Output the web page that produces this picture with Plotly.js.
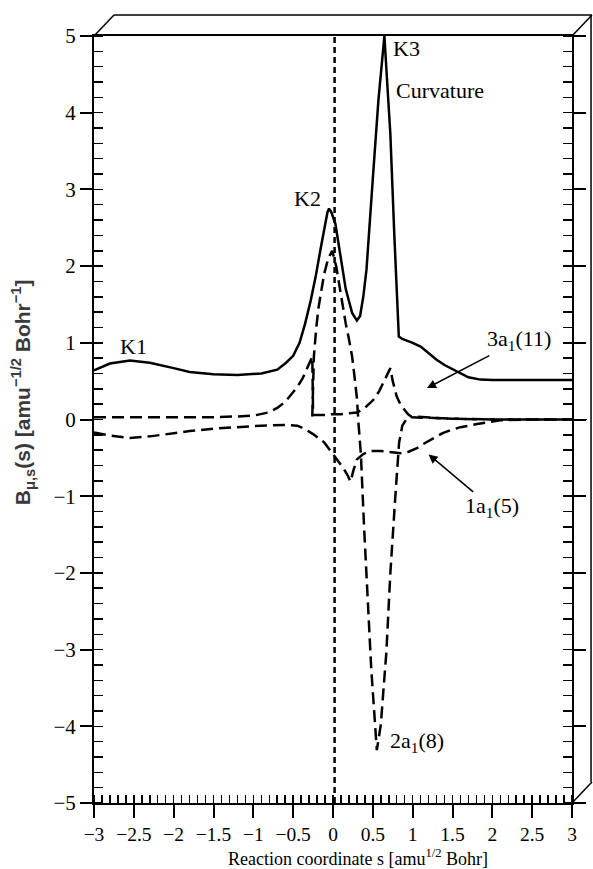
<!DOCTYPE html>
<html>
<head>
<meta charset="utf-8">
<script src="https://cdn.plot.ly/plotly-3.0.1.min.js"></script>
<style>html,body{margin:0;padding:0;background:#fff;}</style>
</head>
<body>
<div id="chart" style="width:593px;height:869px;"></div>
<script>
// Curvature (solid)
const curvS = [-3.0,-2.8,-2.55,-2.3,-2.0,-1.8,-1.5,-1.2,-0.9,-0.7,-0.6,-0.5,-0.42,-0.35,-0.28,-0.22,-0.16,-0.11,-0.07,-0.05,-0.02,0.03,0.1,0.16,0.24,0.30,0.34,0.38,0.42,0.47,0.51,0.57,0.645,0.68,0.72,0.77,0.826,0.87,1.0,1.1,1.2,1.3,1.4,1.5,1.6,1.7,1.85,2.0,2.5,3.0];
const curvY = [0.64,0.73,0.77,0.74,0.67,0.62,0.59,0.58,0.60,0.65,0.73,0.83,1.0,1.25,1.55,1.85,2.2,2.5,2.7,2.75,2.7,2.55,2.12,1.7,1.39,1.29,1.35,1.6,1.95,2.64,3.29,4.16,5.0,4.4,3.72,2.4,1.08,1.05,1.0,0.95,0.86,0.78,0.71,0.66,0.60,0.55,0.52,0.515,0.515,0.515];

// 3a1(11) (dashed)
const a3S = [-3,-2.5,-2,-1.5,-1.2,-1.0,-0.82,-0.7,-0.6,-0.53,-0.45,-0.38,-0.32,-0.28,-0.26,-0.25,-0.2,-0.1,0,0.1,0.2,0.3,0.4,0.51,0.58,0.64,0.68,0.72,0.75,0.8,0.85,0.89,0.94,0.98,1.1,1.3,1.5,2.0,2.5,3.0];
const a3Y = [0.03,0.03,0.03,0.03,0.04,0.05,0.09,0.15,0.23,0.32,0.42,0.54,0.68,0.78,0.82,0.06,0.06,0.06,0.07,0.07,0.08,0.09,0.15,0.26,0.37,0.5,0.58,0.67,0.5,0.3,0.19,0.13,0.07,0.04,0.03,0.02,0.01,0,0,0];

// 2a1(8) (dashed)
const a2S = [-0.26,-0.25,-0.24,-0.21,-0.18,-0.14,-0.11,-0.06,-0.01,0.04,0.1,0.16,0.2,0.24,0.27,0.30,0.32,0.35,0.39,0.43,0.48,0.55,0.6,0.67,0.72,0.78,0.83,0.87,0.92,0.98,1.2,1.5,2.0,2.5,3.0];
const a2Y = [0.04,0.45,0.82,1.2,1.47,1.72,1.9,2.1,2.2,2.0,1.6,1.25,1.05,0.82,0.56,0.28,-0.05,-0.45,-1.4,-2.3,-3.25,-4.31,-3.98,-3.03,-2.0,-1.04,-0.3,-0.08,0.0,0.03,0.02,0.01,0,0,0];

// 1a1(5) (dashed)
const a1S = [-3,-2.8,-2.55,-2.3,-2.0,-1.8,-1.5,-1.2,-0.9,-0.6,-0.45,-0.36,-0.25,-0.11,0.0,0.05,0.12,0.18,0.22,0.26,0.3,0.38,0.47,0.6,0.75,0.85,0.95,1.06,1.15,1.27,1.37,1.47,1.6,1.81,2.1,2.5,3.0];
const a1Y = [-0.17,-0.21,-0.24,-0.22,-0.18,-0.15,-0.12,-0.1,-0.08,-0.07,-0.08,-0.12,-0.19,-0.3,-0.45,-0.52,-0.62,-0.72,-0.81,-0.65,-0.52,-0.45,-0.41,-0.41,-0.43,-0.44,-0.42,-0.37,-0.31,-0.24,-0.18,-0.14,-0.1,-0.06,-0.01,0,0];

// Reference line at the saddle point
const refS = [0.02, 0.02];
const refY = [-5, 5];

// Label texts and positions
const labelText = ["K1","K2","K3","Curvature","2a<sub>1</sub>(8)"];
const labelS = [-2.51,-0.32,0.92,1.34,1.05];
const labelY = [0.95,2.88,4.84,4.29,-4.2];

const arrowText = ["3a<sub>1</sub>(11)","1a<sub>1</sub>(5)"];
const arrowS = [1.18,1.20];
const arrowY = [0.41,-0.455];
const arrowAX = [92,63];
const arrowAY = [-48,53];

const serif = "Liberation Serif, Times New Roman, serif";
const lw = 2.5;

const traces = [
  {x: refS, y: refY, mode: "lines", line: {color: "#000", width: 2.5, dash: "6px,4px"}, hoverinfo: "skip"},
  {x: a1S, y: a1Y, mode: "lines", line: {color: "#000", width: lw, dash: "12px,6px"}, name: "1a1(5)"},
  {x: a3S, y: a3Y, mode: "lines", line: {color: "#000", width: lw, dash: "12px,6px"}, name: "3a1(11)"},
  {x: a2S, y: a2Y, mode: "lines", line: {color: "#000", width: lw, dash: "12px,6px"}, name: "2a1(8)"},
  {x: curvS, y: curvY, mode: "lines", line: {color: "#000", width: lw}, name: "Curvature"}
];

const annotations = [];
for (let i = 0; i < labelText.length; i++) {
  annotations.push({x: labelS[i], y: labelY[i], xref: "x", yref: "y", text: labelText[i],
    showarrow: false, font: {family: serif, size: 22, color: "#000"}});
}
for (let i = 0; i < arrowText.length; i++) {
  annotations.push({x: arrowS[i], y: arrowY[i], xref: "x", yref: "y", text: arrowText[i],
    showarrow: true, ax: arrowAX[i], ay: arrowAY[i], arrowhead: 2, arrowsize: 1.2, arrowwidth: 1.5,
    arrowcolor: "#000", font: {family: serif, size: 22, color: "#000"}});
}
annotations.push({xref: "paper", yref: "paper", x: 0.553, y: -0.0705, xanchor: "center", yanchor: "middle",
  text: "Reaction coordinate s [amu<sup>1/2</sup> Bohr]", showarrow: false,
  font: {family: serif, size: 18, color: "#000"}});
annotations.push({xref: "paper", yref: "paper", x: -0.148, y: 0.536, xanchor: "center", yanchor: "middle",
  textangle: -90, text: "<b>B<sub>μ,s</sub>(s) [amu<sup>−1/2</sup> Bohr<sup>−1</sup>]</b>", showarrow: false,
  font: {family: "Liberation Sans, Arial, sans-serif", size: 21, color: "#3a3a3a"}});

const dx = 0.0418, dy = 0.0274;
const frame = {type: "line", xref: "paper", yref: "paper", line: {color: "#000", width: 1.5}};
const shapes = [
  Object.assign({}, frame, {x0: 0, y0: 1, x1: dx, y1: 1 + dy}),
  Object.assign({}, frame, {x0: dx, y0: 1 + dy, x1: 1 + dx, y1: 1 + dy}),
  Object.assign({}, frame, {x0: 1, y0: 1, x1: 1 + dx, y1: 1 + dy}),
  Object.assign({}, frame, {x0: 1, y0: 0, x1: 1 + dx, y1: dy}),
  Object.assign({}, frame, {x0: 1 + dx - 0.002, y0: dy, x1: 1 + dx - 0.002, y1: 1 + dy}),
  {type: "line", xref: "paper", yref: "y", x0: 1, x1: 1.031, y0: 0, y1: 0, line: {color: "#000", width: 1}}
];

const layout = {
  width: 593, height: 869,
  margin: {l: 94, r: 21, t: 36, b: 66},
  paper_bgcolor: "#fff", plot_bgcolor: "#fff",
  showlegend: false,
  font: {family: serif, size: 20, color: "#000"},
  xaxis: {
    range: [-3, 3], tick0: -3, dtick: 0.5, ticks: "outside", ticklen: 13, tickwidth: 2, tickcolor: "#000",
    showline: true, linewidth: 2, linecolor: "#000", mirror: true, showgrid: false, zeroline: false,
    tickfont: {family: serif, size: 19.5, color: "#000"},
    minor: {ticks: "inside", dtick: 0.1, tick0: -3, ticklen: 8, tickwidth: 1.5, tickcolor: "#000", showgrid: false}
  },
  yaxis: {
    range: [-5, 5], tick0: -5, dtick: 1, ticks: "outside", ticklen: 12, tickwidth: 2, tickcolor: "#000",
    showline: true, linewidth: 2, linecolor: "#000", mirror: "ticks", showgrid: false, zeroline: false,
    tickfont: {family: serif, size: 21, color: "#000"},
    minor: {ticks: "inside", dtick: 0.2, tick0: -5, ticklen: 9, tickwidth: 1.5, tickcolor: "#000", showgrid: false}
  },
  annotations: annotations,
  shapes: shapes
};

Plotly.newPlot("chart", traces, layout, {displayModeBar: false, staticPlot: true});
</script>
</body>
</html>
